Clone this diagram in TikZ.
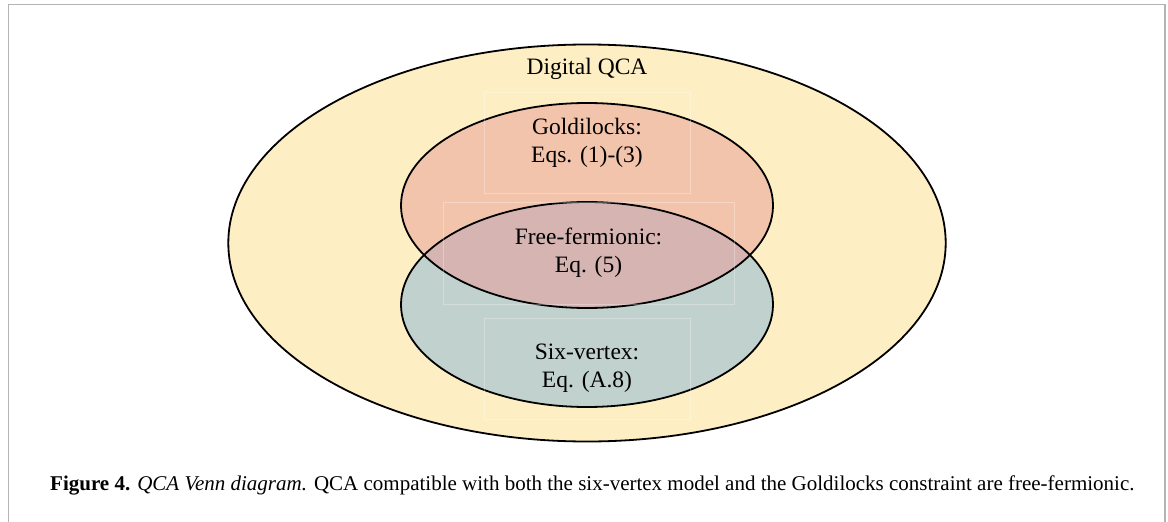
\documentclass[tikz,border=0pt]{standalone}
\usepackage{fontspec}
\setmainfont{Liberation Serif}
\usepackage{xcolor}

\definecolor{qcayellow}{HTML}{FDEEC3}
\definecolor{goldfill}{HTML}{F3C4AC}
\definecolor{freefill}{HTML}{D5B4B1}
\definecolor{sixfill}{HTML}{C1D1CD}
\definecolor{framegray}{HTML}{B4B4B4}

\begin{document}
\begin{tikzpicture}[x=1pt,y=-1pt,
    settext/.style={font=\fontsize{23.5}{28.3}\selectfont, align=center, inner sep=0pt},
    setbox/.style={settext, draw=white, draw opacity=0.3, line width=0.6pt},
    setline/.style={line width=1.8pt}]
  \useasboundingbox (0,0) rectangle (1168,522);
  % page frame, open at the bottom
  \draw[line width=1.5pt, framegray] (8.7,522) -- (8.7,4.3) -- (1165,4.3) -- (1165,522);

  % the three sets
  \draw[setline, fill=qcayellow] (587,243) ellipse [x radius=358.7pt, y radius=198.5pt];
  \fill[goldfill] (587,205.5) ellipse [x radius=186pt, y radius=102.5pt];
  \fill[sixfill] (587,304.5) ellipse [x radius=186pt, y radius=102.5pt];
  \begin{scope}
    \clip (587,205.5) ellipse [x radius=186pt, y radius=102.5pt];
    \fill[freefill] (587,304.5) ellipse [x radius=186pt, y radius=102.5pt];
  \end{scope}
  \draw[setline] (587,205.5) ellipse [x radius=186pt, y radius=102.5pt];
  \draw[setline] (587,304.5) ellipse [x radius=186pt, y radius=102.5pt];

  % labels
  \node[settext, anchor=base] (digital) at (587,74.3) {Digital QCA};
  \node[setbox, minimum width=206pt, minimum height=101pt] (goldilocks) at (587,142.5)
    {Goldilocks:\\Eqs. (1)-(3)};
  \node[setbox, minimum width=291pt, minimum height=102pt] (freefermionic) at (588.5,253)
    {Free-fermionic:\\Eq. (5)};
  \node[setbox, minimum width=206pt, minimum height=101pt] (sixvertex) at (587,368.5)
    {Six-vertex:\\Eq. (A.8)};

  % caption
  \node[anchor=base west, inner sep=0pt, font=\fontsize{21}{24}\selectfont] (caption) at (50,490.7)
    {\textbf{Figure 4.} \textit{QCA Venn diagram.} QCA compatible with both the six-vertex model and the Goldilocks constraint are free-fermionic.};
\end{tikzpicture}
\end{document}
